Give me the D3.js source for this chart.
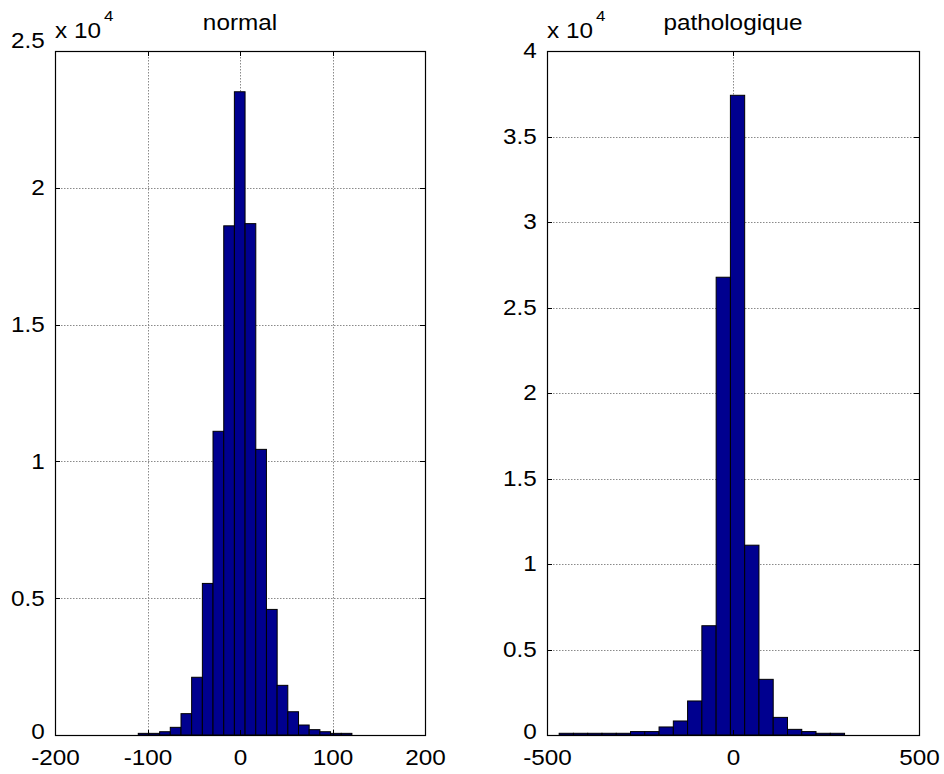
<!DOCTYPE html>
<html><head><meta charset="utf-8">
<script src="https://cdn.jsdelivr.net/npm/d3@7"></script>
<style>body{margin:0;background:#fff} svg{display:block}</style>
</head><body><svg id="c" width="944" height="774"></svg>
<script>
// ---------- data ----------
const titles = ["normal", "pathologique"];
const exponent = "4";
const scaleFactor = 1e4;

const normalBinCenters = [-104.2, -92.7, -81.1, -69.6, -58.0, -46.5, -34.9, -23.4, -11.8, -0.3,
                          11.3, 22.8, 34.4, 45.9, 57.5, 69.0, 80.6, 92.1, 103.7, 115.2];
const normalBinWidth = 11.55;
const normalCounts = [60, 60, 120, 280, 780, 2110, 5540, 11100, 18610, 23510,
                      18690, 10440, 4590, 1815, 850, 365, 195, 120, 60, 60];
const normalXDomain = [-200, 200];
const normalYDomain = [0, 2.5];
const normalXTicks = [-200, -100, 0, 100, 200];
const normalXTickLabels = ["-200", "-100", "0", "100", "200"];
const normalYTicks = [0, 0.5, 1, 1.5, 2, 2.5];
const normalYTickLabels = ["0", "0.5", "1", "1.5", "2", "2.5"];

const pathoBinCenters = [-448.1, -409.8, -371.4, -333.0, -294.7, -256.3, -218.0, -179.6, -141.2, -102.9,
                         -64.5, -26.1, 12.2, 50.6, 88.9, 127.3, 165.7, 204.0, 242.4, 280.7];
const pathoBinWidth = 38.36;
const pathoCounts = [100, 100, 100, 100, 100, 200, 200, 470, 820, 1990,
                     6390, 26770, 37410, 11100, 3255, 1030, 330, 200, 100, 100];
const pathoXDomain = [-500, 500];
const pathoYDomain = [0, 4];
const pathoXTicks = [-500, 0, 500];
const pathoXTickLabels = ["-500", "0", "500"];
const pathoYTicks = [0, 0.5, 1, 1.5, 2, 2.5, 3, 3.5, 4];
const pathoYTickLabels = ["0", "0.5", "1", "1.5", "2", "2.5", "3", "3.5", "4"];

// ---------- layout ----------
const FONT = "'Liberation Sans', Arial, Helvetica, sans-serif";
const FS = 21.5;
const SX = 1.13;
const svg = d3.select("#c");

const panels = [
  {box: {l: 55, r: 425, t: 51, b: 735}, centers: normalBinCenters, width: normalBinWidth, counts: normalCounts,
   xd: normalXDomain, yd: normalYDomain, xt: normalXTicks, xtl: normalXTickLabels, yt: normalYTicks, ytl: normalYTickLabels,
   title: titles[0], topLabelShift: -10},
  {box: {l: 547, r: 919, t: 51, b: 735}, centers: pathoBinCenters, width: pathoBinWidth, counts: pathoCounts,
   xd: pathoXDomain, yd: pathoYDomain, xt: pathoXTicks, xtl: pathoXTickLabels, yt: pathoYTicks, ytl: pathoYTickLabels,
   title: titles[1], topLabelShift: 0}
];

function label(g, x, y, str, size, anchor) {
  return g.append("g").attr("transform", `translate(${x},${y}) scale(${SX},1)`)
    .append("text").attr("x", 0).attr("y", 0)
    .attr("font-family", FONT).attr("font-size", size).attr("fill", "#000")
    .attr("text-anchor", anchor).text(str);
}

panels.forEach(p => {
  const {l, r, t, b} = p.box;
  const xs = d3.scaleLinear().domain(p.xd).range([l, r]);
  const ys = d3.scaleLinear().domain(p.yd).range([b, t]);
  const g = svg.append("g");

  // grid
  g.append("g").selectAll("line").data(p.xt.filter(v => v !== p.xd[0] && v !== p.xd[1]))
    .join("line").attr("x1", d => Math.round(xs(d)) + 0.5).attr("x2", d => Math.round(xs(d)) + 0.5)
    .attr("y1", t).attr("y2", b)
    .attr("stroke", "#8a8a8a").attr("stroke-width", 1).attr("stroke-dasharray", "1.5,1.5");
  g.append("g").selectAll("line").data(p.yt.filter(v => v !== p.yd[0] && v !== p.yd[1]))
    .join("line").attr("y1", d => Math.round(ys(d)) + 0.5).attr("y2", d => Math.round(ys(d)) + 0.5)
    .attr("x1", l).attr("x2", r)
    .attr("stroke", "#8a8a8a").attr("stroke-width", 1).attr("stroke-dasharray", "1.5,1.5");

  // bars
  g.append("g").selectAll("rect").data(p.centers.map((c, i) => ({c, v: p.counts[i] / scaleFactor})))
    .join("rect")
    .attr("x", d => xs(d.c - p.width / 2))
    .attr("width", d => xs(d.c + p.width / 2) - xs(d.c - p.width / 2))
    .attr("y", d => ys(d.v))
    .attr("height", d => ys(0) - ys(d.v))
    .attr("fill", "#00008f").attr("stroke", "#000").attr("stroke-width", 1);

  // frame
  g.append("rect").attr("x", l + 0.5).attr("y", t + 0.5).attr("width", r - l).attr("height", b - t)
    .attr("fill", "none").attr("stroke", "#000").attr("stroke-width", 1.2);

  // inward ticks
  const tk = 5;
  p.xt.forEach(v => {
    const x = Math.round(xs(v)) + 0.5;
    g.append("line").attr("x1", x).attr("x2", x).attr("y1", b).attr("y2", b - tk).attr("stroke", "#000");
    g.append("line").attr("x1", x).attr("x2", x).attr("y1", t).attr("y2", t + tk).attr("stroke", "#000");
  });
  p.yt.forEach(v => {
    const y = Math.round(ys(v)) + 0.5;
    g.append("line").attr("y1", y).attr("y2", y).attr("x1", l).attr("x2", l + tk).attr("stroke", "#000");
    g.append("line").attr("y1", y).attr("y2", y).attr("x1", r).attr("x2", r - tk).attr("stroke", "#000");
  });

  // x axis labels (via d3 axis)
  const xa = g.append("g").attr("transform", `translate(0,${b})`)
    .call(d3.axisBottom(xs).tickValues(p.xt).tickFormat((d, i) => p.xtl[i]).tickSize(0).tickPadding(15));
  xa.select(".domain").remove();
  xa.selectAll("text").attr("font-family", FONT).attr("font-size", FS).attr("fill", "#000")
    .attr("transform", `scale(${SX},1)`);

  // y axis labels
  const ya = g.append("g").attr("transform", `translate(${l},0)`)
    .call(d3.axisLeft(ys).tickValues(p.yt).tickFormat((d, i) => p.ytl[i]).tickSize(0).tickPadding(9));
  ya.select(".domain").remove();
  ya.selectAll("text").attr("font-family", FONT).attr("font-size", FS).attr("fill", "#000")
    .attr("transform", `scale(${SX},1)`)
    .attr("dy", (d, i) => {
      if (i === p.yt.length - 1 && p.topLabelShift) return `${0.32 + p.topLabelShift / FS}em`;
      if (i === 0) return `${0.32 - 3 / FS}em`;
      return "0.32em";
    });

  // exponent label
  label(g, l, 38, "x 10", FS, "start");
  label(g, l + 49, 21, exponent, 15, "start");

  // title
  label(g, (l + r) / 2, 30, p.title, FS, "middle");
});
</script></body></html>
